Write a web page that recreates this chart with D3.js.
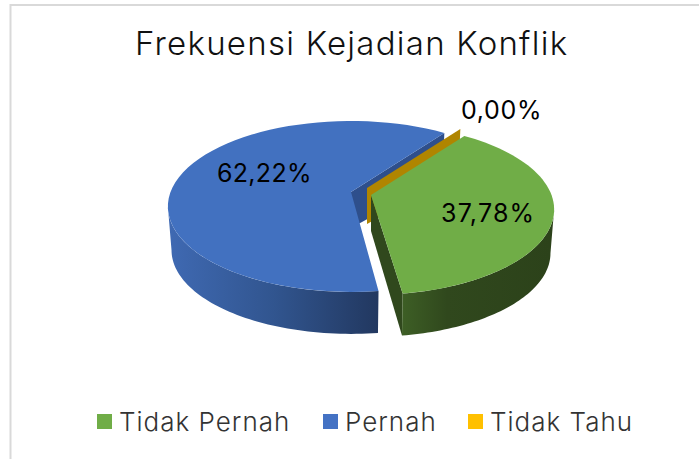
<!DOCTYPE html>
<html><head><meta charset="utf-8">
<script src="https://cdn.jsdelivr.net/npm/d3@7"></script>
<style>html,body{margin:0;padding:0;background:#fff}svg{display:block}</style>
</head><body><div id="c"></div>
<script>
const chartTitle = "Frekuensi Kejadian Konflik";
const categories = ["Tidak Pernah","Pernah","Tidak Tahu"];
const values = [37.78,62.22,0.00];
const labels = ["37,78%","62,22%","0,00%"];
const colors = ["#70AD47","#4472C4","#FFC000"];

const W=699,H=459;
const svg=d3.select("#c").append("svg").attr("width",W).attr("height",H);
const font="Inter, Lato, sans-serif";
svg.append("path").attr("d",`M${W},5H10.5V${H}`).attr("fill","none").attr("stroke","#d9d9d9").attr("stroke-width",2);

const deg=Math.PI/180;
const pie=d3.pie().sort(null).value(d=>d).startAngle(36*deg).endAngle(396*deg);
const arcs=pie(values);

const K=0.169, RX=180.5, RY=83, DEPTH=44, BOTTOM=0.98, INNER=36;
const cx=351, cy=192;
const sx=d3.scaleLinear().domain([-1,1]).range([-RX,RX]);
const sy=d3.scaleLinear().domain([-1,1]).range([RY,-RY]);
function proj(a,o,lower){
  const X=Math.sin(a),Y=Math.cos(a),p=1+K*Y,s=lower?BOTTOM:1;
  return [cx+o[0]+s*sx(X/p), cy+o[1]+s*sy(Y/p)+(lower?DEPTH:0)];
}
const lineGen=d3.line();
const arcPts=(a0,a1,o,lower)=>d3.range(0,61).map(i=>proj(a0+(a1-a0)*i/60,o,lower));
const vtx=(o,d)=>[cx+o[0],cy+o[1]+(d||0)];

const defs=svg.append("defs");
function grad(id,x1,x2,stops){
  const g=defs.append("linearGradient").attr("id",id).attr("gradientUnits","userSpaceOnUse")
    .attr("x1",x1).attr("x2",x2).attr("y1",0).attr("y2",0);
  stops.forEach(s=>g.append("stop").attr("offset",s[0]).attr("stop-color",s[1]));
}
grad("gb",170,378,[[0,"#3F69B2"],[0.5,"#31558F"],[1,"#223860"]]);
grad("gg",403,550,[[0,"#3D5E25"],[0.3,"#30481D"],[1,"#2C421A"]]);

const [green,blue,zero]=arcs;
const oBlue=[0,0],oGreen=[20,3],oZero=[16,-4];
const blueStart=blue.startAngle+0.7*deg, greenEnd=green.endAngle-0.4*deg;
const frontRight=Math.acos(-K), frontLeft=2*Math.PI-frontRight;
const draw=(pts,fill)=>svg.append("path").attr("d",lineGen(pts)+"Z").attr("fill",fill);
const topFace=(a0,a1,o)=>[vtx(o),...arcPts(a0,a1,o,false)];
const rim=(a0,a1,o)=>[...arcPts(a0,a1,o,false),...arcPts(a1,a0,o,true)];
const cut=(a,o)=>[vtx(o),proj(a,o,false),proj(a,o,true),vtx(o,INNER)];

draw(cut(blue.endAngle,oBlue),"#2E4F8C");
draw(cut(zero.startAngle,oZero),"#B08500");
draw(rim(blueStart,frontLeft,oBlue),"url(#gb)");
draw(topFace(blueStart,blue.endAngle,oBlue),"#4271C0");
draw(cut(greenEnd,oGreen),"#30481D");
draw(rim(frontRight,greenEnd,oGreen),"url(#gg)");
draw(topFace(green.startAngle,greenEnd,oGreen),colors[0]);

const text=(s,x,y,size,ls,fill,weight)=>svg.append("text").text(s).attr("x",x).attr("y",y)
  .attr("font-family",font).attr("font-size",size).attr("letter-spacing",ls).attr("fill",fill)
  .attr("font-weight",weight);

text(chartTitle,135,55,33,1.25,"#111",300);
text(labels[1],217,182,25,0.3,"#000",400);
text(labels[0],441,222,25,1.2,"#000",400);
text(labels[2],461,119,25,0.7,"#000",400);

const lx=[97,323,468], tx=[119,345,490];
categories.forEach((c,i)=>{
  svg.append("rect").attr("x",lx[i]).attr("y",414).attr("width",15).attr("height",15).attr("fill",colors[i]);
  text(c,tx[i],431,26,1,"#333",300);
});
</script></body></html>
